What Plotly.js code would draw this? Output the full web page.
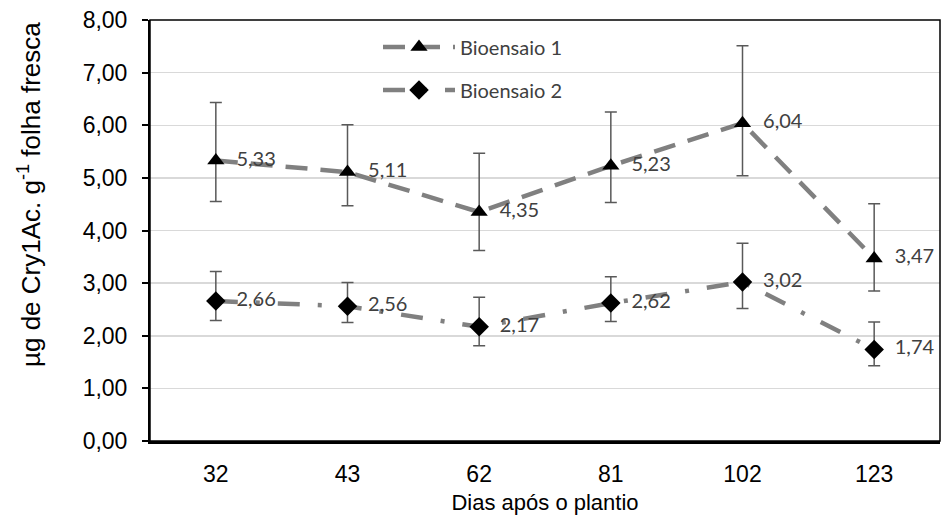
<!DOCTYPE html>
<html>
<head>
<meta charset="utf-8">
<script src="https://cdn.plot.ly/plotly-3.0.1.min.js"></script>
<style>html,body{margin:0;padding:0;background:#fff;}</style>
</head>
<body>
<div id="chart" style="width:942px;height:526px;"></div>
<script>
// Data
const days = ['32', '43', '62', '81', '102', '123'];
const bio1 = [5.33, 5.11, 4.35, 5.23, 6.04, 3.47];
const bio1Upper = [6.43, 6.01, 5.47, 6.25, 7.51, 4.51];
const bio1Lower = [4.55, 4.47, 3.62, 4.53, 5.04, 2.85];
const bio2 = [2.66, 2.56, 2.17, 2.62, 3.02, 1.74];
const bio2Upper = [3.22, 3.01, 2.73, 3.12, 3.76, 2.26];
const bio2Lower = [2.29, 2.25, 1.81, 2.27, 2.52, 1.43];
const yTicks = [0, 1, 2, 3, 4, 5, 6, 7, 8];

const fmt = v => '&nbsp;&nbsp;' + v.toFixed(2).replace('.', ',');
const lineGray = '#808080';
const errGray = '#595959';
const labelFont = {family: 'Lato', size: 20, color: '#404040'};
const axisFontFamily = 'Liberation Sans';

const trace1 = {
  x: days, y: bio1, name: 'Bioensaio 1', type: 'scatter', mode: 'lines+markers+text',
  text: bio1.map(fmt), textposition: 'middle right', textfont: labelFont, cliponaxis: false,
  line: {color: lineGray, width: 4.5, dash: '22px,13px'},
  marker: {symbol: 'triangle-up', size: 15, color: '#000'},
  error_y: {type: 'data', symmetric: false,
    array: bio1Upper.map((u, i) => +(u - bio1[i]).toFixed(2)),
    arrayminus: bio1.map((v, i) => +(v - bio1Lower[i]).toFixed(2)),
    color: errGray, thickness: 1.5, width: 6},
  legend: 'legend'
};
const trace2 = {
  x: days, y: bio2, name: 'Bioensaio 2', type: 'scatter', mode: 'lines+markers+text',
  text: bio2.map(fmt), textposition: 'middle right', textfont: labelFont, cliponaxis: false,
  line: {color: lineGray, width: 4.5, dash: '22px,18px,4px,18px'},
  marker: {symbol: 'diamond', size: 15, color: '#000'},
  error_y: {type: 'data', symmetric: false,
    array: bio2Upper.map((u, i) => +(u - bio2[i]).toFixed(2)),
    arrayminus: bio2.map((v, i) => +(v - bio2Lower[i]).toFixed(2)),
    color: errGray, thickness: 1.5, width: 6},
  legend: 'legend2'
};

const legendCommon = {
  bgcolor: 'rgba(0,0,0,0)', borderwidth: 0, itemwidth: 72,
  font: labelFont, xanchor: 'left', yanchor: 'middle', orientation: 'v'
};

const layout = {
  width: 942, height: 526,
  margin: {l: 150, r: 2, t: 20, b: 85},
  paper_bgcolor: '#fff', plot_bgcolor: '#fff',
  separators: ',.',
  showlegend: true,
  legend: Object.assign({}, legendCommon, {x: (378 - 150) / 790, y: (441 - 47) / 421}),
  legend2: Object.assign({}, legendCommon, {x: (378 - 150) / 790, y: (441 - 90) / 421}),
  xaxis: {
    type: 'category', categoryarray: days, range: [-0.5, 5.5],
    showline: true, linecolor: '#000', linewidth: 3,
    ticks: '', showgrid: false, zeroline: false,
    tickfont: {family: axisFontFamily, size: 23, color: '#000'},
    ticklabelstandoff: 10,
    title: {text: 'Dias após o plantio', font: {family: axisFontFamily, size: 22, color: '#000'}, standoff: 10}
  },
  yaxis: {
    range: [0, 8], tickvals: yTicks, tickformat: '.2f',
    showline: true, linecolor: '#000', linewidth: 2,
    ticks: 'outside', ticklen: 6, tickwidth: 2, tickcolor: '#000',
    showgrid: true, gridcolor: '#d9d9d9', gridwidth: 1.5, zeroline: false,
    tickfont: {family: axisFontFamily, size: 23, color: '#000'},
    ticklabelstandoff: 10
  },
  shapes: [{type: 'rect', xref: 'paper', yref: 'paper', x0: 0, x1: 1, y0: 0, y1: 1,
    line: {color: '#000', width: 1.5}, layer: 'above'}],
  annotations: [{
    text: 'µg de Cry1Ac. g<sup>-1</sup> folha fresca', textangle: -90,
    xref: 'paper', yref: 'paper', x: (29 - 150) / 790, y: (441 - 195) / 421,
    xanchor: 'center', yanchor: 'middle', showarrow: false,
    font: {family: axisFontFamily, size: 26, color: '#000'}
  }]
};

Plotly.newPlot('chart', [trace1, trace2], layout, {displayModeBar: false, staticPlot: true});
</script>
</body>
</html>
